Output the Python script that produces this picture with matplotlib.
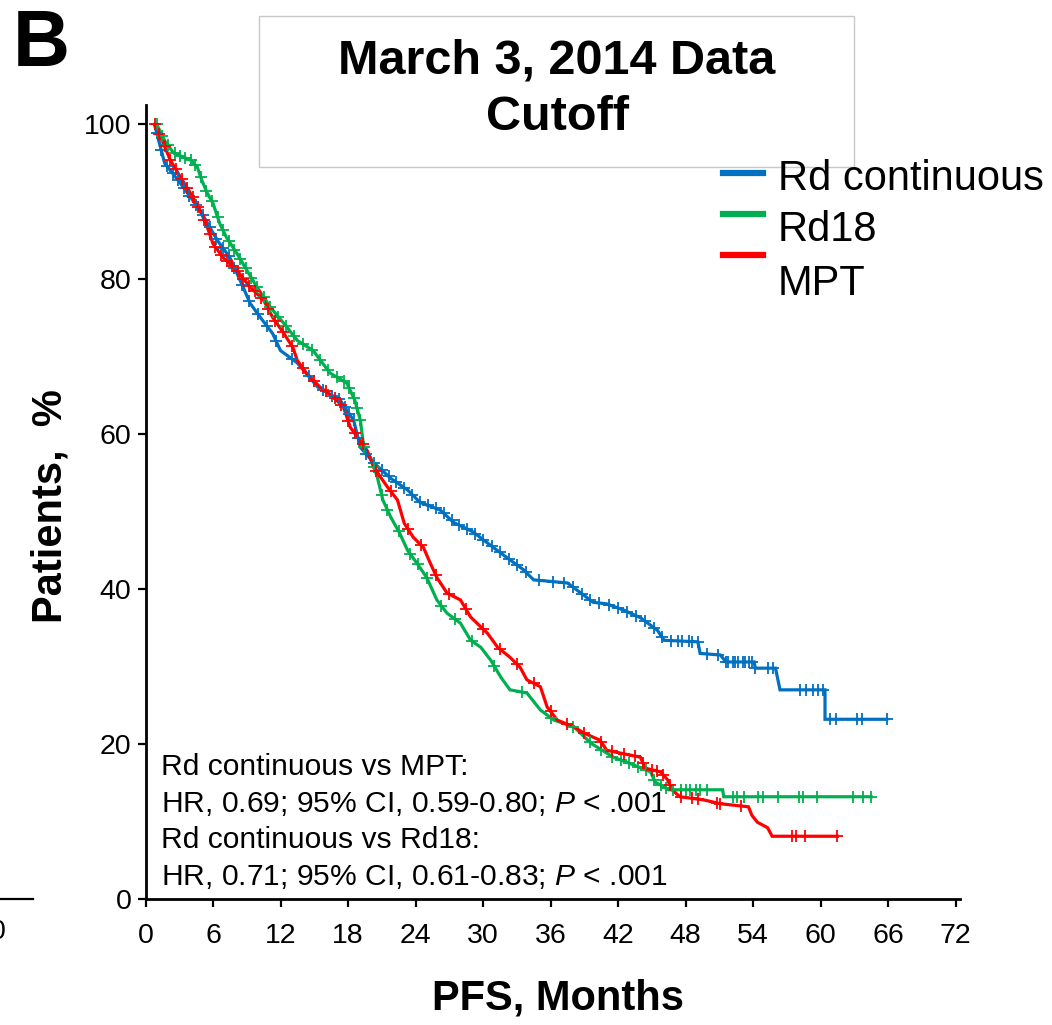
import numpy as np
import matplotlib
matplotlib.use("Agg")
import matplotlib.pyplot as plt
from matplotlib.patches import Rectangle
from matplotlib.lines import Line2D

plt.rcParams["font.family"] = ["Liberation Sans", "DejaVu Sans"]
plt.rcParams["mathtext.fontset"] = "custom"
plt.rcParams["mathtext.rm"] = "Liberation Sans"
plt.rcParams["mathtext.it"] = "Liberation Sans:italic"

# ---- Kaplan-Meier curve vertices (months, % patients) ----
rdc_t = [0.8, 1.7, 3.1, 4.85, 6.4, 7.5, 8.4, 9.3, 10.2, 11.3, 12.0, 13.5, 15.3, 17.3,
         18.5, 19.1, 20.3, 21.8, 23.3, 24.4, 26.2, 27.4, 29.1, 30.9, 32.1, 33.6, 34.5,
         37.5, 38.7, 39.8, 41.0, 42.5, 44.0, 45.5, 46.1, 49.1, 49.3, 51.1, 51.6, 54.1,
         54.2, 56.0, 56.4, 60.4, 60.4, 65.9]
rdc_s = [100, 95.0, 92.4, 88.9, 85.0, 82.8, 79.9, 76.9, 75.1, 73.0, 70.8, 69.2, 66.1, 64.4,
         61.8, 58.3, 56.3, 54.3, 52.8, 51.2, 50.2, 48.6, 47.4, 45.4, 44.1, 42.5, 41.2,
         40.8, 39.5, 38.3, 38.1, 37.3, 36.3, 34.7, 33.4, 33.2, 31.7, 31.5, 30.6, 30.6,
         29.8, 29.8, 27.0, 27.0, 23.2, 23.2]

rd18_t = [1.0, 1.7, 2.5, 4.0, 4.6, 5.0, 5.5, 6.0, 6.6, 7.2, 8.1, 9.0, 9.9, 11.1, 12.3,
          13.5, 14.9, 16.4, 17.9, 18.6, 19.1, 19.4, 20.0, 20.6, 21.1, 21.8, 22.6, 23.3,
          24.1, 25.0, 25.9, 26.8, 28.0, 28.9, 29.8, 30.7, 31.6, 32.4, 33.9, 35.1, 36.3,
          38.1, 39.6, 41.6, 43.4, 44.9, 45.3, 46.5, 51.3, 51.4, 64.5]
rd18_s = [100, 97.9, 96.3, 95.4, 94.5, 92.8, 91.1, 89.8, 87.2, 85.4, 83.4, 81.2, 79.0, 76.4,
          74.3, 72.1, 70.8, 67.9, 66.6, 64.4, 61.8, 58.3, 57.0, 54.5, 51.5, 49.3, 47.2,
          45.0, 43.4, 41.5, 38.6, 36.9, 35.6, 33.4, 32.5, 30.8, 28.6, 27.0, 26.6, 24.4,
          23.1, 22.2, 20.1, 18.3, 17.3, 16.4, 15.1, 14.1, 14.1, 13.2, 13.2]

mpt_t = [0.8, 1.6, 2.2, 3.1, 4.0, 4.85, 5.5, 6.0, 6.9, 8.1, 9.3, 10.5, 11.3, 12.3, 13.1,
         13.5, 14.3, 15.5, 16.7, 17.6, 18.2, 19.7, 20.3, 21.5, 22.4, 23.0, 23.8, 24.7,
         25.3, 25.9, 26.8, 28.0, 28.9, 30.4, 31.3, 32.4, 33.3, 33.9, 35.1, 35.7, 36.6,
         38.1, 39.0, 40.4, 41.0, 44.0, 44.4, 45.8, 46.4, 46.8, 47.5, 49.6, 51.1, 53.6,
         53.9, 54.4, 55.3, 55.7, 61.5]
mpt_s = [100, 97.5, 95.4, 93.2, 91.1, 88.9, 86.7, 84.6, 82.8, 81.2, 79.0, 77.3, 75.1, 73.0,
         71.2, 69.5, 67.9, 66.1, 64.8, 63.5, 60.9, 57.9, 55.7, 53.2, 51.5, 48.5, 46.7,
         45.4, 43.4, 41.5, 39.5, 38.6, 36.4, 34.3, 32.5, 31.2, 29.9, 28.3, 27.4, 24.8,
         23.1, 22.2, 21.4, 20.5, 19.2, 18.3, 16.9, 16.4, 15.4, 14.1, 13.2, 12.8, 12.3,
         11.9, 10.8, 9.9, 9.2, 8.1, 8.1]

# ---- censoring times (months) ----
rdc_cens = [1.0, 1.4, 1.9, 2.4, 2.9, 3.4, 3.9, 4.5, 5.1, 5.7, 6.3, 6.9, 7.4, 7.9, 8.6, 9.2,
            10.0, 10.8, 11.6, 13.0, 14.5, 15.8, 16.6, 17.2, 17.7, 18.1, 18.5, 18.9, 19.6,
            20.3, 21.0, 21.6, 22.3, 23.0, 23.7, 24.4, 25.1, 25.8, 26.5, 27.2, 27.9, 28.6,
            29.3, 30.0, 30.8, 31.5, 32.3, 33.0, 33.8, 35.0, 36.2, 37.2, 38.0, 38.8, 39.5,
            40.3, 41.2, 42.0, 42.8, 43.6, 44.4, 45.2, 45.9, 46.7, 47.3, 47.7, 48.3, 48.6,
            49.1, 49.9, 50.9, 51.6, 51.8, 52.2, 52.4, 52.7, 53.1, 53.3, 53.6, 53.9, 54.2,
            55.3, 55.8, 58.2, 58.7, 59.3, 59.8, 60.2, 60.8, 61.4, 63.2, 63.7, 65.9]
rd18_cens = [1.0, 1.5, 2.0, 2.6, 3.1, 3.5, 4.0, 4.4, 4.9, 5.4, 5.9, 6.4, 6.9, 7.4, 7.9, 8.4,
             8.9, 9.4, 9.9, 10.5, 11.1, 11.8, 12.5, 13.2, 14.0, 14.8, 15.5, 16.2, 17.0,
             17.6, 18.1, 18.5, 18.8, 19.1, 19.4, 20.3, 21.0, 21.5, 22.5, 23.5, 24.2, 25.0,
             26.3, 27.5, 29.0, 31.0, 33.5, 36.0, 38.0, 39.5, 40.5, 41.5, 42.3, 43.0, 43.8,
             44.5, 45.2, 45.8, 46.3, 46.9, 47.6, 48.0, 48.4, 48.9, 49.3, 49.9, 52.2, 52.6,
             53.2, 54.4, 54.9, 56.2, 58.1, 58.4, 59.7, 62.9, 63.8, 64.5]
mpt_cens = [0.8, 1.2, 1.7, 2.2, 2.7, 3.2, 3.7, 4.2, 4.7, 5.2, 5.7, 6.2, 6.7, 7.2, 7.7, 8.2,
            8.7, 9.2, 9.7, 10.3, 10.9, 11.5, 12.2, 13.0, 14.0, 15.0, 16.0, 16.8, 17.4,
            18.0, 18.6, 19.3, 20.5, 21.8, 23.3, 24.5, 25.8, 27.0, 28.5, 30.0, 31.5, 33.0,
            34.5, 36.0, 37.5, 39.0, 40.5, 41.5, 42.5, 43.5, 44.2, 45.0, 45.5, 46.0, 46.6,
            47.6, 48.6, 49.1, 50.8, 51.1, 52.9, 57.5, 57.8, 58.6, 61.5]

series_names = ["Rd continuous", "Rd18", "MPT"]
series_colors = ["#0070C0", "#00B050", "#FF0000"]
x_ticks = list(range(0, 73, 6))
y_ticks = [0, 20, 40, 60, 80, 100]

annotation_lines = [
    "Rd continuous vs MPT:",
    r"HR, 0.69; 95% CI, 0.59-0.80; $P$ < .001",
    "Rd continuous vs Rd18:",
    r"HR, 0.71; 95% CI, 0.61-0.83; $P$ < .001",
]

W, H = 1052, 1025
fig = plt.figure(figsize=(W / 100, H / 100), dpi=100)


def fx(px):
    return px / W


def fy(py):
    return 1 - py / H


ax = fig.add_axes([fx(145.5), fy(899), fx(960) - fx(145.5), fy(105) - fy(899)])
ax.set_xlim(0, 72.4)
ax.set_ylim(0, 102.5)

curves = [(rdc_t, rdc_s, rdc_cens), (rd18_t, rd18_s, rd18_cens), (mpt_t, mpt_s, mpt_cens)]
for (t, s, cens), col in zip(curves, series_colors):
    ax.plot(t, s, color=col, lw=2.3, solid_joinstyle="miter", zorder=3)
    cy = np.interp(cens, t, s)
    ax.plot(cens, cy, ls="none", marker="+", ms=8, mew=1.3, color=col, zorder=4)

for side in ["top", "right"]:
    ax.spines[side].set_visible(False)
for side in ["left", "bottom"]:
    ax.spines[side].set_linewidth(2)
ax.set_xticks(x_ticks)
ax.set_yticks(y_ticks)
ax.tick_params(axis="both", direction="out", length=6, width=1.6, labelsize=20.5,
               colors="black")
ax.tick_params(axis="x", pad=11)
ax.tick_params(axis="y", pad=4)

# axis titles
fig.text(fx(50), fy(506), "Patients,  %", rotation=90, ha="center", va="center",
         fontsize=30, fontweight="bold")
fig.text(fx(558), fy(998), "PFS, Months", ha="center", va="center",
         fontsize=30, fontweight="bold")

# panel letter
fig.text(fx(13), fy(66), "B", ha="left", va="baseline", fontsize=57, fontweight="bold")

# title box
fig.patches.append(Rectangle((fx(259), fy(167)), fx(854) - fx(259), fy(16) - fy(167),
                             transform=fig.transFigure, facecolor="white",
                             edgecolor="#c8c8c8", lw=1, zorder=5))
fig.text(fx(557), fy(61), "March 3, 2014 Data", ha="center", va="center",
         fontsize=35, fontweight="bold", zorder=6)
fig.text(fx(557), fy(117), "Cutoff", ha="center", va="center",
         fontsize=35, fontweight="bold", zorder=6)

# legend
leg_line_y = [173, 214, 255]
leg_text_y = [179, 230, 284]
for name, col, ly, ty in zip(series_names, series_colors, leg_line_y, leg_text_y):
    fig.add_artist(Line2D([fx(723), fx(763)], [fy(ly), fy(ly)], color=col, lw=4.5,
                          transform=fig.transFigure, zorder=7))
    fig.text(fx(778), fy(ty), name, ha="left", va="center", fontsize=30, zorder=7)

# hazard-ratio annotations
for line, by in zip(annotation_lines, [775, 812, 848, 885]):
    fig.text(fx(161), fy(by), line, ha="left", va="baseline", fontsize=21.6)

# edge of the neighbouring panel
fig.add_artist(Line2D([0, fx(33)], [fy(899), fy(899)], color="black", lw=1.6,
                      transform=fig.transFigure))
fig.text(fx(-10), fy(932), "0", ha="left", va="center", fontsize=20.5)

fig.savefig("out.png", dpi=100)
